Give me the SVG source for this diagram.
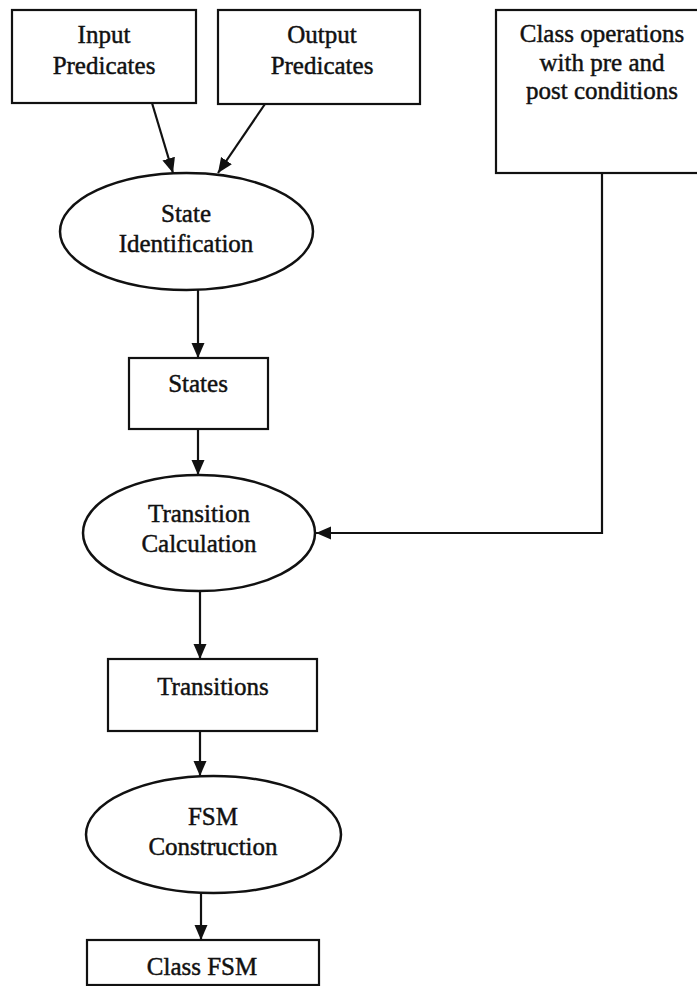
<svg xmlns="http://www.w3.org/2000/svg" width="697" height="986" viewBox="0 0 697 986">
<style>
.box{fill:#fff;stroke:#111;stroke-width:2.2}
.ell{fill:#fff;stroke:#111;stroke-width:2.5}
.lbl{font-family:"Liberation Serif","Times New Roman",serif;font-size:25px;fill:#111;stroke:#111;stroke-width:0.45;text-anchor:middle}
.con{fill:none;stroke:#111;stroke-width:2.2}
</style>
<defs>
<marker id="arr" markerUnits="userSpaceOnUse" markerWidth="16" markerHeight="14" refX="15" refY="6.5" orient="auto">
<path d="M0,0 L15,6.5 L0,13 z" fill="#111"/>
</marker>
</defs>
<rect width="697" height="986" fill="#fff"/>
<g id="connectors">
<line class="con" x1="152" y1="103" x2="173" y2="173" marker-end="url(#arr)"/>
<line class="con" x1="265" y1="104" x2="218" y2="173" marker-end="url(#arr)"/>
<line class="con" x1="198" y1="290" x2="198" y2="358" marker-end="url(#arr)"/>
<line class="con" x1="198" y1="429" x2="198" y2="475" marker-end="url(#arr)"/>
<polyline class="con" points="602,173 602,533 316,533" marker-end="url(#arr)"/>
<line class="con" x1="200" y1="591" x2="200" y2="659" marker-end="url(#arr)"/>
<line class="con" x1="200" y1="731" x2="200" y2="776" marker-end="url(#arr)"/>
<line class="con" x1="201" y1="893" x2="201" y2="940" marker-end="url(#arr)"/>
</g>
<g id="input-predicates">
<rect class="box" x="12" y="10" width="184" height="93"/>
<text class="lbl" x="104" y="43">Input</text>
<text class="lbl" x="104" y="74">Predicates</text>
</g>
<g id="output-predicates">
<rect class="box" x="218" y="10" width="202" height="94"/>
<text class="lbl" x="322" y="43">Output</text>
<text class="lbl" x="322" y="74">Predicates</text>
</g>
<g id="class-operations">
<rect class="box" x="496" y="10" width="204" height="163"/>
<text class="lbl" x="602" y="42">Class operations</text>
<text class="lbl" x="602" y="71">with pre and</text>
<text class="lbl" x="602" y="99">post conditions</text>
</g>
<g id="state-identification">
<ellipse class="ell" cx="186.5" cy="231.5" rx="126.5" ry="58.5"/>
<text class="lbl" x="186" y="222">State</text>
<text class="lbl" x="186" y="252">Identification</text>
</g>
<g id="states">
<rect class="box" x="129" y="358" width="139" height="71"/>
<text class="lbl" x="198" y="392">States</text>
</g>
<g id="transition-calculation">
<ellipse class="ell" cx="199" cy="533" rx="116" ry="58"/>
<text class="lbl" x="199" y="522">Transition</text>
<text class="lbl" x="199" y="552">Calculation</text>
</g>
<g id="transitions">
<rect class="box" x="108" y="659" width="209" height="72"/>
<text class="lbl" x="213" y="695">Transitions</text>
</g>
<g id="fsm-construction">
<ellipse class="ell" cx="213.5" cy="834.5" rx="127.5" ry="58.5"/>
<text class="lbl" x="213" y="825">FSM</text>
<text class="lbl" x="213" y="855">Construction</text>
</g>
<g id="class-fsm">
<rect class="box" x="87" y="940" width="232" height="45"/>
<text class="lbl" x="202" y="975">Class FSM</text>
</g>
</svg>
